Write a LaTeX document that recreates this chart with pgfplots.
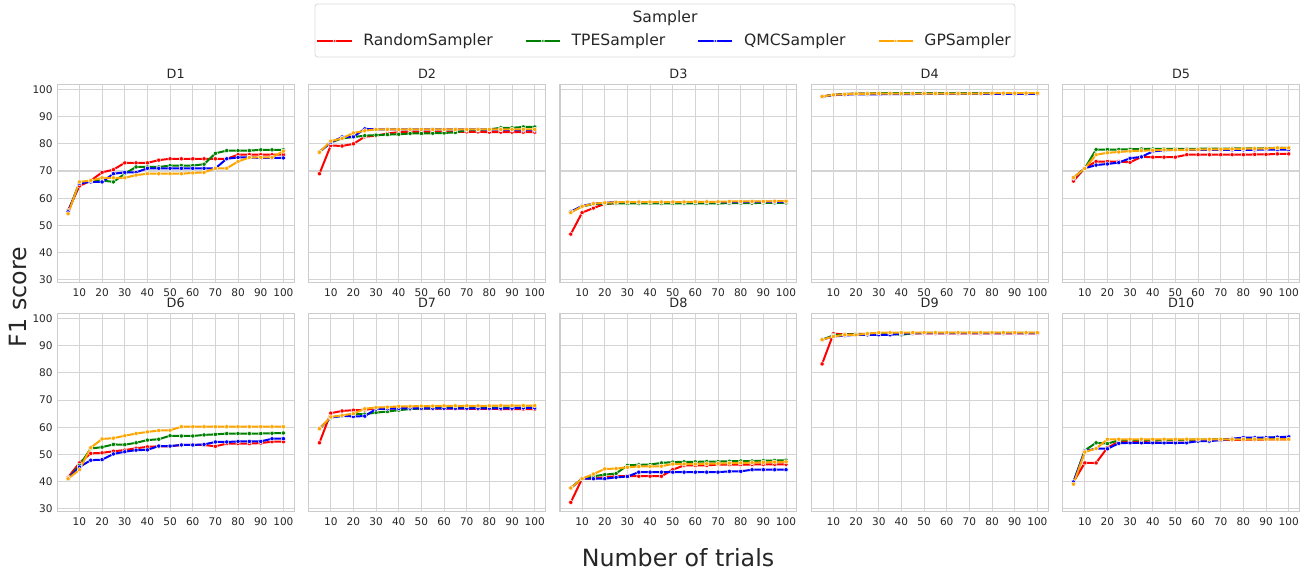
\documentclass[border=0pt]{standalone}
\usepackage{fontspec}
\setmainfont{DejaVu Sans}
\usepackage{pgfplots}
\usepackage{pgfplotstable}
\pgfplotsset{compat=1.18}

\definecolor{cR}{RGB}{255,0,0}
\definecolor{cT}{RGB}{0,128,0}
\definecolor{cQ}{RGB}{0,0,255}
\definecolor{cG}{RGB}{255,165,0}
\definecolor{txt}{RGB}{38,38,38}

% x = trials, r = Random, t = TPE, q = QMC, g = GP
\pgfplotstableread{
x r t q g
5 55.5 55.0 55.0 54.3
10 64.5 65.5 65.5 66.0
15 66.5 66.5 66.0 66.5
20 69.5 66.5 66.0 67.5
25 70.5 66.0 69.0 67.5
30 73.0 69.0 69.5 67.5
35 73.0 71.5 69.5 68.5
40 73.0 71.5 71.0 69.0
45 74.0 71.5 71.0 69.0
50 74.5 72.0 71.0 69.0
55 74.5 72.0 71.0 69.0
60 74.5 72.0 71.0 69.3
65 74.5 72.5 71.0 69.5
70 74.5 76.5 71.0 71.0
75 74.5 77.5 74.5 71.0
80 76.0 77.5 75.0 73.5
85 76.0 77.5 75.0 75.0
90 76.0 77.8 74.8 75.0
95 76.0 77.8 74.8 75.0
100 76.0 77.8 74.8 77.3
}\dA
\pgfplotstableread{
x r t q g
5 69.0 77.0 77.0 76.9
10 79.4 80.5 80.5 81.0
15 79.2 82.0 82.5 82.0
20 80.0 82.5 82.6 84.0
25 82.6 83.0 85.5 84.8
30 83.0 83.2 85.3 85.3
35 83.8 83.4 85.3 85.3
40 84.3 83.5 85.3 85.3
45 84.4 83.8 85.3 85.3
50 84.4 83.8 85.3 85.3
55 84.4 83.9 85.3 85.3
60 84.4 84.0 85.3 85.3
65 84.4 84.2 85.3 85.3
70 84.4 85.0 85.3 85.3
75 84.4 85.1 85.3 85.3
80 84.3 85.3 85.2 85.3
85 84.3 85.9 85.2 85.3
90 84.3 85.9 85.1 85.3
95 84.3 86.2 85.0 85.3
100 84.3 86.2 85.0 85.3
}\dB
\pgfplotstableread{
x r t q g
5 46.8 55.0 55.0 54.7
10 54.7 57.0 57.2 57.0
15 56.4 57.8 58.0 58.0
20 57.9 58.0 58.3 58.3
25 58.2 58.1 58.6 58.5
30 58.4 58.1 58.6 58.6
35 58.4 58.1 58.6 58.6
40 58.4 58.1 58.6 58.6
45 58.4 58.1 58.6 58.6
50 58.4 58.1 58.6 58.6
55 58.4 58.1 58.6 58.6
60 58.5 58.1 58.6 58.7
65 58.5 58.1 58.6 58.7
70 58.5 58.1 58.6 58.7
75 58.5 58.2 58.6 58.8
80 58.5 58.2 58.6 58.8
85 58.6 58.2 58.7 58.8
90 58.6 58.3 58.7 58.8
95 58.7 58.3 58.7 58.9
100 58.7 58.3 58.7 58.9
}\dC
\pgfplotstableread{
x r t q g
5 97.4 97.4 97.4 97.4
10 98.0 98.0 97.9 98.0
15 98.3 98.3 98.1 98.2
20 98.4 98.5 98.2 98.4
25 98.5 98.5 98.2 98.4
30 98.5 98.6 98.2 98.5
35 98.5 98.6 98.3 98.5
40 98.5 98.6 98.3 98.5
45 98.5 98.6 98.3 98.5
50 98.5 98.6 98.4 98.5
55 98.5 98.6 98.4 98.5
60 98.5 98.6 98.4 98.5
65 98.5 98.6 98.4 98.5
70 98.5 98.6 98.4 98.5
75 98.5 98.6 98.4 98.5
80 98.5 98.6 98.4 98.6
85 98.5 98.6 98.4 98.6
90 98.5 98.6 98.4 98.6
95 98.5 98.6 98.4 98.6
100 98.5 98.6 98.4 98.6
}\dD
\pgfplotstableread{
x r t q g
5 66.3 67.4 67.4 67.6
10 71.1 71.0 71.0 70.9
15 73.5 77.9 72.2 76.0
20 73.5 77.9 72.6 76.7
25 73.5 77.9 73.1 77.0
30 73.2 78.0 74.7 77.3
35 75.2 78.1 75.2 77.5
40 75.1 78.1 77.2 77.6
45 75.1 78.1 77.6 77.8
50 75.1 78.1 77.8 77.8
55 76.0 78.1 77.8 77.8
60 76.0 78.2 77.8 77.9
65 76.0 78.2 77.8 78.0
70 76.0 78.2 77.8 78.0
75 76.0 78.3 77.8 78.1
80 76.0 78.3 77.8 78.2
85 76.1 78.3 77.8 78.2
90 76.1 78.4 77.9 78.3
95 76.3 78.5 77.9 78.5
100 76.3 78.5 77.9 78.5
}\dE
\pgfplotstableread{
x r t q g
5 41.6 41.1 41.1 41.1
10 46.9 46.0 45.4 44.4
15 50.4 52.2 47.9 52.5
20 50.6 52.7 48.1 55.7
25 51.2 53.7 50.2 56.0
30 51.6 53.6 51.0 56.9
35 52.3 54.3 51.6 57.7
40 52.8 55.3 51.7 58.3
45 53.0 55.6 53.1 58.8
50 53.0 56.9 53.1 58.9
55 53.5 56.8 53.5 60.2
60 53.5 56.8 53.5 60.2
65 53.5 57.2 53.7 60.2
70 53.0 57.4 54.6 60.2
75 54.0 57.7 54.6 60.2
80 54.0 57.7 54.8 60.2
85 54.0 57.7 54.8 60.2
90 54.2 57.7 54.8 60.2
95 54.7 57.8 55.8 60.2
100 54.7 57.9 55.8 60.2
}\dF
\pgfplotstableread{
x r t q g
5 54.3 59.5 59.5 59.5
10 65.2 63.6 63.6 63.8
15 66.0 64.2 64.2 64.4
20 66.3 64.8 64.0 65.0
25 66.4 64.8 64.1 66.8
30 67.0 65.4 66.7 67.3
35 67.0 65.8 66.8 67.4
40 67.0 66.3 66.9 67.7
45 66.9 66.7 67.0 67.7
50 66.9 66.9 67.0 67.8
55 66.9 67.0 67.0 67.8
60 66.9 67.1 67.0 67.9
65 66.9 67.2 67.0 67.9
70 66.8 67.2 67.0 67.9
75 66.8 67.2 67.0 67.9
80 66.8 67.2 67.0 67.9
85 66.7 67.2 67.0 68.0
90 66.7 67.2 67.0 68.0
95 66.7 67.2 67.1 68.0
100 66.7 67.2 67.1 68.0
}\dG
\pgfplotstableread{
x r t q g
5 32.4 37.7 37.7 37.7
10 41.1 41.1 41.1 41.1
15 41.1 42.0 41.1 42.8
20 41.7 42.6 41.1 44.7
25 42.0 43.0 41.6 44.8
30 42.1 46.0 41.9 45.3
35 42.0 46.2 43.5 45.6
40 42.0 46.3 43.5 45.6
45 42.0 46.9 43.5 45.7
50 44.4 47.2 43.5 46.5
55 46.0 47.3 43.5 46.5
60 46.0 47.3 43.5 46.5
65 46.0 47.4 43.5 46.6
70 46.3 47.4 43.5 46.7
75 46.3 47.5 43.8 46.8
80 46.3 47.6 43.8 46.9
85 46.3 47.6 44.4 47.0
90 46.4 47.7 44.4 47.1
95 46.4 47.8 44.4 47.2
100 46.4 47.9 44.4 47.3
}\dH
\pgfplotstableread{
x r t q g
5 83.3 92.2 92.2 92.2
10 94.4 93.8 93.4 93.4
15 94.2 94.1 93.7 94.0
20 94.3 94.2 94.0 94.0
25 94.4 94.3 94.0 94.4
30 94.4 94.4 94.0 94.8
35 94.5 94.4 94.0 94.8
40 94.5 94.0 94.4 94.8
45 94.5 94.6 94.6 94.8
50 94.5 94.7 94.6 94.8
55 94.5 94.7 94.6 94.8
60 94.5 94.7 94.6 94.8
65 94.5 94.7 94.6 94.8
70 94.5 94.7 94.6 94.8
75 94.5 94.7 94.6 94.8
80 94.5 94.7 94.6 94.8
85 94.5 94.7 94.6 94.8
90 94.5 94.7 94.6 94.8
95 94.5 94.7 94.6 94.8
100 94.5 94.7 94.6 94.8
}\dI
\pgfplotstableread{
x r t q g
5 39.9 39.9 39.9 39.1
10 46.9 51.5 51.2 50.9
15 46.9 54.3 52.2 52.2
20 52.5 54.0 52.1 55.6
25 54.7 55.2 54.1 55.6
30 54.9 55.3 54.3 55.6
35 55.0 55.3 54.3 55.6
40 55.1 55.3 54.3 55.6
45 55.2 55.3 54.3 55.6
50 55.2 55.4 54.3 55.6
55 55.2 55.4 54.3 55.6
60 55.2 55.5 54.9 55.6
65 55.3 55.5 54.9 55.6
70 55.3 55.6 55.3 55.6
75 55.4 55.7 55.8 55.6
80 55.4 55.9 56.2 55.6
85 55.5 56.0 56.2 55.6
90 55.5 56.1 56.2 55.6
95 55.6 56.3 56.4 55.6
100 55.6 56.5 56.5 55.6
}\dJ

\pgfplotsset{
  panel/.style={
    scale only axis, width=177.6pt, height=148.5pt, anchor=north west,
    xmin=0.25, xmax=104.75, ymin=29.1, ymax=101.9,
    xtick={10,20,...,100}, ytick={30,40,...,100},
    major tick length=0pt,
    grid=major, major grid style={black!17, line width=0.8pt},
    axis line style={black!20, line width=0.9pt},
    tick label style={font=\fontsize{7.9}{9}\selectfont, text=txt},
    xticklabel style={yshift=-1.5pt},
    /pgf/number format/assume math mode=true,
    title style={font=\fontsize{9.6}{11}\selectfont, text=txt, anchor=south, yshift=-5.5pt},
  },
  noy/.style={yticklabels={}},
  sR/.style={cR, line width=1.5pt, mark=*, mark size=1.6pt, mark options={draw=white, fill=cR, line width=0.35pt}},
  sT/.style={cT, line width=1.5pt, mark=*, mark size=1.6pt, mark options={draw=white, fill=cT, line width=0.35pt}},
  sQ/.style={cQ, line width=1.5pt, mark=*, mark size=1.6pt, mark options={draw=white, fill=cQ, line width=0.35pt}},
  sG/.style={cG, line width=1.5pt, mark=*, mark size=1.6pt, mark options={draw=white, fill=cG, line width=0.35pt}},
}

\newcommand{\four}[1]{%
  \addplot[sR] table[x=x,y=r]{#1};
  \addplot[sT] table[x=x,y=t]{#1};
  \addplot[sQ] table[x=x,y=q]{#1};
  \addplot[sG] table[x=x,y=g]{#1};
}

\begin{document}
\begin{tikzpicture}
\path[use as bounding box] (0pt,0pt) rectangle (984.75pt,-429.75pt);

\begin{axis}[panel, at={(43pt,-63.2pt)}, title={D1}]
\four{\dA}
\end{axis}
\begin{axis}[panel, noy, at={(231.5pt,-63.2pt)}, title={D2}]
\four{\dB}
\end{axis}
\begin{axis}[panel, noy, at={(420pt,-63.2pt)}, title={D3},
  legend columns=4,
  legend style={at={(0.4434,1.2185)}, anchor=center, draw=none, fill=none,
    font=\fontsize{11.7}{13}\selectfont, text=txt,
    /tikz/every odd column/.append style={column sep=6pt},
    /tikz/every even column/.append style={column sep=22pt}},
  legend image code/.code={\draw[mark repeat=2,mark phase=2,#1,mark size=1.2pt] plot coordinates {(0cm,0cm) (0.45cm,0cm) (0.9cm,0cm)};}]
\four{\dC}
\legend{RandomSampler, TPESampler, QMCSampler, GPSampler}
\end{axis}
\begin{axis}[panel, noy, at={(608.5pt,-63.2pt)}, title={D4}]
\four{\dD}
\end{axis}
\begin{axis}[panel, noy, at={(797pt,-63.2pt)}, title={D5}]
\four{\dE}
\end{axis}

\begin{axis}[panel, at={(43pt,-235pt)}, title={D6}]
\four{\dF}
\end{axis}
\begin{axis}[panel, noy, at={(231.5pt,-235pt)}, title={D7}]
\four{\dG}
\end{axis}
\begin{axis}[panel, noy, at={(420pt,-235pt)}, title={D8}]
\four{\dH}
\end{axis}
\begin{axis}[panel, noy, at={(608.5pt,-235pt)}, title={D9}]
\four{\dI}
\end{axis}
\begin{axis}[panel, noy, at={(797pt,-235pt)}, title={D10}]
\four{\dJ}
\end{axis}

% legend frame and title
\draw[black!15, line width=0.6pt, rounded corners=2pt] (236.25pt,-3pt) rectangle (761.25pt,-42.75pt);
\node[text=txt, font=\fontsize{11.7}{13}\selectfont] at (498.75pt,-13.5pt) {Sampler};
% shared axis labels
\node[text=txt, font=\fontsize{17.8}{20}\selectfont, rotate=90] at (13.5pt,-222.75pt) {F1 score};
\node[text=txt, font=\fontsize{17.8}{20}\selectfont] at (508.5pt,-418.5pt) {Number of trials};
\end{tikzpicture}
\end{document}
